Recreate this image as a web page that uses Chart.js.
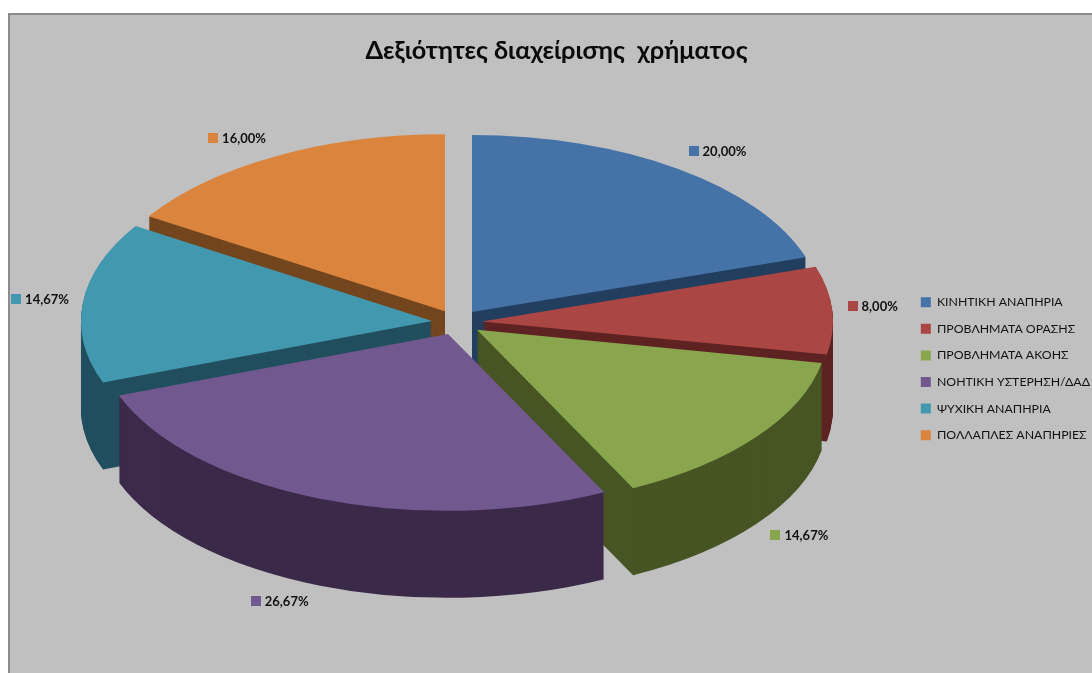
<!DOCTYPE html>
<html>
<head>
<meta charset="utf-8">
<script src="https://cdn.jsdelivr.net/npm/chart.js@4/dist/chart.umd.min.js"></script>
<style>
  html, body { margin: 0; padding: 0; background: #fff; overflow: hidden; }
  #frame { position: absolute; left: 8px; top: 13px; width: 1084px; height: 660px; background: #c0c0c0;
           border-left: 2px solid #8c8c8c; border-top: 2px solid #8c8c8c; box-sizing: border-box; }
  #wrap { position: absolute; left: 0; top: 0; width: 1092px; height: 673px; overflow: hidden; }
</style>
</head>
<body>
<div id="frame"></div>
<div id="wrap"><canvas id="myChart" width="1100" height="673"></canvas></div>
<script>
    var chartTitle = 'Δεξιότητες διαχείρισης  χρήματος'
    var labels = ['ΚΙΝΗΤΙΚΗ ΑΝΑΠΗΡΙΑ', 'ΠΡΟΒΛΗΜΑΤΑ ΟΡΑΣΗΣ', 'ΠΡΟΒΛΗΜΑΤΑ ΑΚΟΗΣ', 'ΝΟΗΤΙΚΗ ΥΣΤΕΡΗΣΗ/ΔΑΔ', 'ΨΥΧΙΚΗ ΑΝΑΠΗΡΙΑ', 'ΠΟΛΛΑΠΛΕΣ ΑΝΑΠΗΡΙΕΣ']
    var values = [20.00, 8.00, 14.67, 26.67, 14.67, 16.00]
    var colors = ['#4573a7', '#aa4643', '#89a54e', '#71588f', '#4198af', '#db843d']
    var darkColors = ['#233f5f', '#5e2322', '#475524', '#3b2a49', '#224f5f', '#73461f']

    // the fake 3D look: squash the pie, pull slices apart, stack dark copies under it
    var pieX = 457.3
    var pieY = 322.2
    var pieRadius = 351
    var tilt = 0.504
    var explode = 25
    var depth = 87
    var drawOrder = [0, 5, 1, 4, 2, 3] // back to front

    // percent labels sit around the rim
    var labelReach = 1.22
    var labelNudgeX = [8.5, -12, 1, -20, 8.6, -14]
    var labelNudgeY = [3.5, -2.6, -5, -9, -0.6, 5]

    function midAngle(el) {
        return (el.startAngle + el.endAngle) / 2
    }

    function drawSlice(ctx, el, drop) {
        var a = midAngle(el)
        ctx.save()
        // whole pixels in x, otherwise the dark copies fringe the straight edges
        ctx.translate(Math.round(pieX + Math.cos(a) * explode), pieY + Math.sin(a) * explode * tilt + drop)
        ctx.scale(1, tilt)
        ctx.translate(-el.x, -el.y)
        el.draw(ctx)
        ctx.restore()
    }

    var pie3d = {
        id: 'pie3d',
        beforeDatasetsDraw: function(chart) {
            var ctx = chart.ctx
            var arcs = chart.getDatasetMeta(0).data
            drawOrder.forEach(function(i) {
                var el = arcs[i]
                var top = el.options
                el.options = Object.assign({}, top, { backgroundColor: darkColors[i], borderColor: darkColors[i] })
                for (var d = depth; d > 0; d--) {
                    drawSlice(ctx, el, d)
                }
                el.options = top
                drawSlice(ctx, el, 0)
            })
            return false // default pie drawing not wanted
        }
    }

    var percentLabels = {
        id: 'percentLabels',
        afterDraw: function(chart) { // not afterDatasetsDraw, pie3d cancels that one
            var ctx = chart.ctx
            chart.getDatasetMeta(0).data.forEach(function(el, i) {
                var a = midAngle(el)
                var text = values[i].toFixed(2).replace('.', ',') + '%'
                ctx.save()
                ctx.font = 'bold 13px Lato, "Open Sans", sans-serif'
                ctx.textBaseline = 'middle'
                var w = 14 + ctx.measureText(text).width
                var x = pieX + Math.cos(a) * pieRadius * labelReach + labelNudgeX[i] - w / 2
                var y = pieY + Math.sin(a) * pieRadius * tilt * labelReach + labelNudgeY[i]
                if (Math.sin(a) > 0.1) {
                    y += depth
                }
                ctx.fillStyle = colors[i]
                ctx.fillRect(Math.round(x), Math.round(y) - 5, 10, 10)
                ctx.fillStyle = '#111'
                ctx.fillText(text, x + 14, y + 1)
                ctx.restore()
            })
        }
    }

    var ctx = document.getElementById('myChart').getContext('2d');
    var myChart = new Chart(ctx, {
        type: 'pie',
        data: {
            labels: labels,
            datasets: [{
                data: values,
                backgroundColor: colors,
                borderWidth: 0,
                radius: pieRadius
            }]
        },
        options: {
            responsive: false,
            animation: false,
            layout: {
                padding: { left: 13, top: 28, right: 0, bottom: 2 }
            },
            plugins: {
                tooltip: { enabled: false },
                title: {
                    display: true,
                    text: chartTitle,
                    color: '#0a0a0a',
                    font: { family: 'Lato, "Open Sans", sans-serif', size: 25.3, weight: 'bold' },
                    padding: { top: 8, bottom: 0 }
                },
                legend: {
                    position: 'right',
                    fullSize: false,
                    labels: {
                        boxWidth: 10,
                        boxHeight: 10,
                        padding: 14.3,
                        color: '#111',
                        font: { family: 'Lato, "Open Sans", sans-serif', size: 12.3 }
                    }
                }
            }
        },
        plugins: [pie3d, percentLabels]
    });
</script>
</body>
</html>
